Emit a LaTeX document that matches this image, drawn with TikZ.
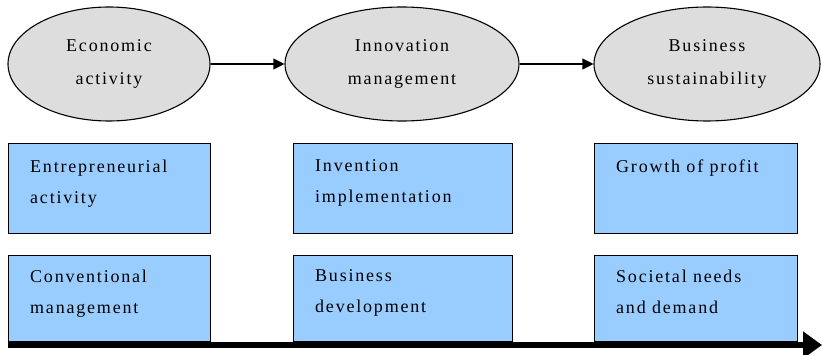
\documentclass[tikz,border=0pt]{standalone}
\usepackage{fontspec}
\setmainfont{Liberation Serif}[LetterSpace=10]
\usetikzlibrary{arrows.meta,shapes.geometric}
\definecolor{ellfill}{HTML}{DDDDDD}
\definecolor{boxfill}{HTML}{99CCFF}
\tikzset{
  stage/.style={ellipse,draw=black,line width=1.1pt,fill=ellfill,inner sep=0pt,
    align=center,font=\fontsize{18}{33}\selectfont},
  infobox/.style={rectangle,draw=black,line width=0.9pt,fill=boxfill,inner sep=0pt,
    minimum height=90pt},
  boxtext/.style={anchor=north west,align=left,inner sep=0pt,
    font=\fontsize{18}{31}\selectfont},
  flow/.style={line width=1.1pt,-{Triangle[length=11pt,width=11pt]}},
}
\begin{document}
\begin{tikzpicture}[x=1pt,y=-1pt]
\useasboundingbox (0,0) rectangle (822,355);
% ellipses
\node[stage,minimum width=202pt,minimum height=114pt] (e1) at (109,64) {Economic\\activity};
\node[stage,minimum width=234pt,minimum height=114pt] (e2) at (402,64) {Innovation\\management};
\node[stage,minimum width=226pt,minimum height=114pt] (e3) at (707,64) {Business\\sustainability};
\draw[flow] (e1.east) -- (e2.west);
\draw[flow] (e2.east) -- (e3.west);
% row 1 boxes
\node[infobox,minimum width=202pt,anchor=north west] (b11) at (8,143) {};
\node[infobox,minimum width=219pt,anchor=north west] (b12) at (293,143) {};
\node[infobox,minimum width=203pt,anchor=north west] (b13) at (594,143) {};
% row 2 boxes
\node[infobox,minimum width=202pt,minimum height=86pt,anchor=north west] (b21) at (8,255) {};
\node[infobox,minimum width=219pt,minimum height=86pt,anchor=north west] (b22) at (293,255) {};
\node[infobox,minimum width=203pt,minimum height=86pt,anchor=north west] (b23) at (594,255) {};
% texts
\node[boxtext] (t11) at ([shift={(22,16.5)}]b11.north west) {Entrepreneurial\\activity};
\node[boxtext] (t12) at ([shift={(22,16.5)}]b12.north west) {Invention\\implementation};
\node[boxtext] (t13) at ([shift={(22,16.5)}]b13.north west) {Growth of profit};
\node[boxtext] (t21) at ([shift={(22,14.5)}]b21.north west) {Conventional\\management};
\node[boxtext] (t22) at ([shift={(22,14.5)}]b22.north west) {Business\\development};
\node[boxtext] (t23) at ([shift={(22,14.5)}]b23.north west) {Societal needs\\and demand};
% time axis
\coordinate (axs) at (8,345);
\coordinate (axe) at (822,345);
\draw[line width=6pt,-{Triangle[length=19pt,width=26pt]}] (axs) -- (axe);
\end{tikzpicture}
\end{document}
